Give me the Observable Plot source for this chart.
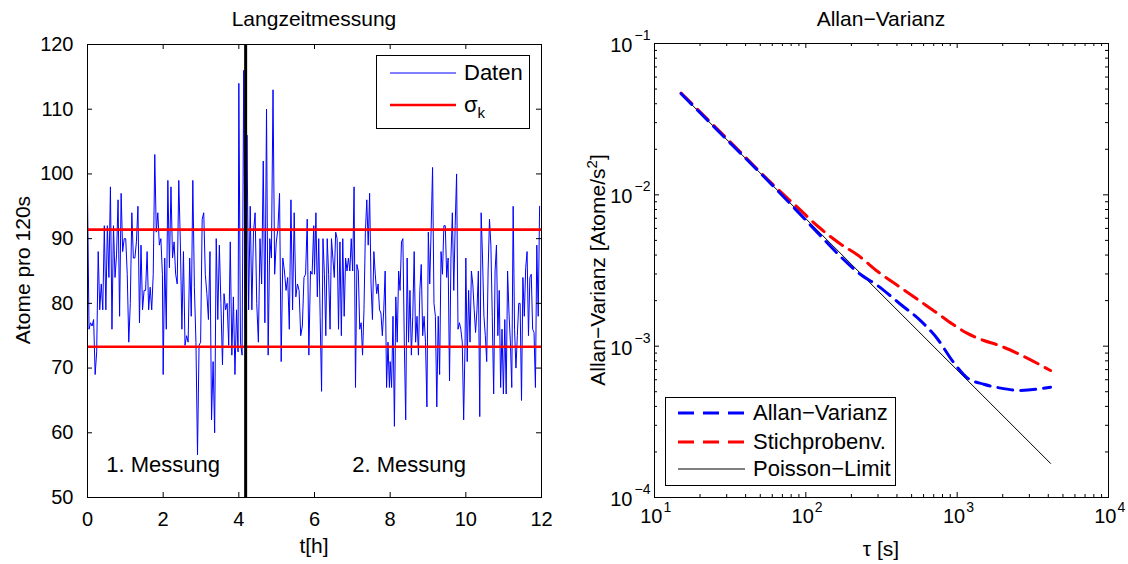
<!DOCTYPE html>
<html>
<head>
<meta charset="utf-8">
<script src="https://cdn.jsdelivr.net/npm/d3@7"></script>
<script src="https://cdn.jsdelivr.net/npm/@observablehq/plot@0.6"></script>
<style>
html,body{margin:0;padding:0;background:#fff;}
#wrap{position:relative;width:1128px;height:564px;overflow:hidden;font-family:"Liberation Sans",Arial,Helvetica,sans-serif;color:#000;background:#fff;}
#wrap > svg{position:absolute;top:0;}
.t{position:absolute;font-size:21px;line-height:1;white-space:nowrap;transform:translate(-50%,-50%);}
.title{font-size:21px;}
.rot{transform:translate(-50%,-50%) rotate(-90deg);}
.legend{position:absolute;border:1px solid #000;background:#fff;box-sizing:border-box;}
.legend span{position:absolute;font-size:22px;line-height:1;white-space:nowrap;transform:translateY(-50%);}
sup{font-size:15px;vertical-align:8px;line-height:0;}
sub{font-size:15px;vertical-align:-6px;line-height:0;}
</style>
</head>
<body>
<div id="wrap"></div>
<script>
// ---------- Data: Langzeitmessung (Atome pro 120 s), read per 2-hour window ----------
const segStart = [0, 2, 4, 6, 8, 10];
const segEnd   = [1.98, 3.98, 5.98, 7.98, 9.98, 11.95];
const seg0 = [97,76,77,76.5,77.5,69,72.5,88,79,83,79,92,79,92,84,98,76,92,84,87.5,96,78,97,88,90,90,84.5,74,80,94,87,87,89.5,95,77,89,79,82,82,88,79,82.5,79,84.5,103,91,94,89,90,84.5];
const seg1 = [69,87,76,99,85.5,98,87,89.5,84.5,83,99,89.5,76,88,73.5,75,74,87,78,99,82.5,74,56.6,73.5,74,93,94,84.5,81.5,77.5,88,62,71,60,90,77.5,89,80,70.5,81.5,79,80,73.5,89.5,72,81,69,79,72.5];
const seg2 = [114,74,72,116,76,106,79,95,79,91,94,80,74,90,83,102,77,110,72,90,87,113,84.5,89.5,91.5,97,71,87,85,82,84,76,96,79,94,81,83,82,75,76.5,84,84.5,93,72,85,84.5,92];
const seg3 = [84.5,94,81,90,78,66.4,90,84.5,75,90,84.5,76,90,87,84,91,90,76,89.5,75,90,78,87,85,87,85,90,85,98,67,86,85,76,77,72,79,91,96,89,97,83,77.5,88,84.5,81.5,83,79,78.5,75,79,85,67,74,67];
const seg4 = [71,67,78,61,81,74,85,82,89.5,90,74,62,87,74,82,72,78,88,74,78,72,82,86,75,78,74,64,91,83,91.5,101,80,78,64,78,69,88,84.5,92,92,84,87,68,87,94,82,92,100,76,77,76,74,62,74];
const seg5 = [87,71,82,74,85,83,79,75.5,79,85,62.5,94,87,78,75,71,85,93,89,78,66,85,89,75,82,67,76,66,77.5,66,85,78.5,74,67,95,76,70,75,80,80,65,84,78,85.5,88,75,84,84.5,76,75.5,67,89,78,95];
const sigmaK = [73.3, 91.4];          // mean ± sigma
const splitTime = [4.18];             // Trennung 1./2. Messung [h]
const messungText = ["1. Messung", "2. Messung"];
const messungT = [2.0, 8.5];
const messungV = [55, 55];
const xTicksL = [0, 2, 4, 6, 8, 10, 12];
const yTicksL = [50, 60, 70, 80, 90, 100, 110, 120];

// ---------- Data: Allan-Varianz ----------
const tau    = [15,30,60,90,120,170,220,300,420,570,740,930,1160,1500,1900,2600,4140];
const allan  = [0.0466,0.0232,0.0116,0.0076,0.0056,0.0039,0.00308,0.0025,0.0019,0.00148,0.00112,0.0008,0.00062,0.00056,0.00053,0.00051,0.000536];
const stich  = [0.047,0.0236,0.0118,0.0081,0.0062,0.00472,0.0040,0.0031,0.00245,0.00198,0.00165,0.0014,0.00122,0.00109,0.00101,0.00088,0.00069];
const poissonTau = [15, 4140];
const poisson    = [0.0464, 0.000168];
const xMajR = [10, 100, 1000, 10000];
const xExpR = ["1", "2", "3", "4"];
const yMajR = [1e-1, 1e-2, 1e-3, 1e-4];
const yExpR = ["\u22121", "\u22122", "\u22123", "\u22124"];
const xMinR = [20,30,40,50,60,70,80,90,200,300,400,500,600,700,800,900,2000,3000,4000,5000,6000,7000,8000,9000];
const yMinR = [2e-4,3e-4,4e-4,5e-4,6e-4,7e-4,8e-4,9e-4,2e-3,3e-3,4e-3,5e-3,6e-3,7e-3,8e-3,9e-3,2e-2,3e-2,4e-2,5e-2,6e-2,7e-2,8e-2,9e-2];

// ---------- build tables ----------
const segs = [seg0, seg1, seg2, seg3, seg4, seg5];
const series = [];
segs.forEach((s, k) => {
  const n = s.length;
  s.forEach((v, i) => series.push({t: segStart[k] + i * (segEnd[k] - segStart[k]) / (n - 1), v}));
});
const allanData = tau.map((t, i) => ({tau: t, v: allan[i]}));
const stichData = tau.map((t, i) => ({tau: t, v: stich[i]}));
const poisData  = poissonTau.map((t, i) => ({tau: t, v: poisson[i]}));
const messData  = messungText.map((s, i) => ({t: messungT[i], v: messungV[i], s}));

const font = '"Liberation Sans", Arial, Helvetica, sans-serif';
const fs = 20;
const wrap = document.getElementById("wrap");

// ---------- Left plot ----------
const mL = {top: 44, right: 23, bottom: 67, left: 87};
const fhL = 564 - mL.top - mL.bottom, fwL = 564 - mL.left - mL.right;
const tk = 5;
const left = Plot.plot({
  width: 564, height: 564,
  marginTop: mL.top, marginRight: mL.right, marginBottom: mL.bottom, marginLeft: mL.left,
  x: {domain: [0, 12]},
  y: {domain: [50, 120]},
  style: {fontFamily: font, fontSize: fs + "px", background: "transparent", overflow: "visible", color: "#000"},
  marks: [
    Plot.line(series, {x: "t", y: "v", stroke: "#0000ff", strokeWidth: 1}),
    Plot.ruleY(sigmaK, {stroke: "#ff0000", strokeWidth: 2.6}),
    Plot.ruleX(splitTime, {stroke: "#000", strokeWidth: 3}),
    Plot.text(messData, {x: "t", y: "v", text: "s", fontSize: 22, fill: "#000"}),
    Plot.frame({stroke: "#000", strokeWidth: 1}),
    Plot.tickX(xTicksL, {x: d => d, insetTop: fhL - tk, stroke: "#000"}),
    Plot.tickX(xTicksL, {x: d => d, insetBottom: fhL - tk, stroke: "#000"}),
    Plot.tickY(yTicksL, {y: d => d, insetRight: fwL - tk, stroke: "#000"}),
    Plot.tickY(yTicksL, {y: d => d, insetLeft: fwL - tk, stroke: "#000"}),
    Plot.axisX(xTicksL, {tickSize: 0, tickPadding: 14, label: null, fontSize: fs}),
    Plot.axisY(yTicksL, {tickSize: 0, tickPadding: 14, label: null, fontSize: fs})
  ]
});
left.style.left = "0px";
wrap.appendChild(left);

// ---------- Right plot ----------
const mR = {top: 43, right: 20, bottom: 67, left: 90};
const fhR = 564 - mR.top - mR.bottom, fwR = 564 - mR.left - mR.right;
const tkMin = 3;
const dash = "15,8";
const right = Plot.plot({
  width: 564, height: 564,
  marginTop: mR.top, marginRight: mR.right, marginBottom: mR.bottom, marginLeft: mR.left,
  x: {type: "log", domain: [10, 10000], axis: null},
  y: {type: "log", domain: [1e-4, 1e-1], axis: null},
  style: {fontFamily: font, fontSize: fs + "px", background: "transparent", overflow: "visible", color: "#000"},
  marks: [
    Plot.line(poisData, {x: "tau", y: "v", stroke: "#000", strokeWidth: 1}),
    Plot.line(stichData, {x: "tau", y: "v", stroke: "#ff0000", strokeWidth: 3, strokeDasharray: dash, curve: "monotone-x"}),
    Plot.line(allanData, {x: "tau", y: "v", stroke: "#0000ff", strokeWidth: 3, strokeDasharray: dash, curve: "monotone-x"}),
    Plot.frame({stroke: "#000", strokeWidth: 1}),
    Plot.tickX(xMajR, {x: d => d, insetTop: fhR - tk, stroke: "#000"}),
    Plot.tickX(xMajR, {x: d => d, insetBottom: fhR - tk, stroke: "#000"}),
    Plot.tickX(xMinR, {x: d => d, insetTop: fhR - tkMin, stroke: "#000"}),
    Plot.tickX(xMinR, {x: d => d, insetBottom: fhR - tkMin, stroke: "#000"}),
    Plot.tickY(yMajR, {y: d => d, insetRight: fwR - tk, stroke: "#000"}),
    Plot.tickY(yMajR, {y: d => d, insetLeft: fwR - tk, stroke: "#000"}),
    Plot.tickY(yMinR, {y: d => d, insetRight: fwR - tkMin, stroke: "#000"}),
    Plot.tickY(yMinR, {y: d => d, insetLeft: fwR - tkMin, stroke: "#000"}),
    Plot.text(xMajR, {x: d => d, frameAnchor: "bottom", text: () => "10", textAnchor: "end", dx: 8, dy: 25, fontSize: fs, fill: "#000"}),
    Plot.text(xMajR, {x: d => d, frameAnchor: "bottom", text: (d, i) => xExpR[i], textAnchor: "start", dx: 9, dy: 14, fontSize: 14, fill: "#000"}),
    Plot.text(yMajR, {y: d => d, frameAnchor: "left", text: () => "10", textAnchor: "end", dx: -22, dy: 2, fontSize: fs, fill: "#000"}),
    Plot.text(yMajR, {y: d => d, frameAnchor: "left", text: (d, i) => yExpR[i], textAnchor: "end", dx: -4, dy: -8, fontSize: 14, fill: "#000"})
  ]
});
right.style.left = "564px";
wrap.appendChild(right);

// ---------- Titles and axis labels ----------
function label(html, x, y, rot) {
  const d = document.createElement("div");
  d.className = "t" + (rot ? " rot" : "");
  d.style.left = x + "px"; d.style.top = y + "px";
  d.innerHTML = html;
  wrap.appendChild(d);
}
label("Langzeitmessung", 314, 18);
label("t[h]", 314, 545);
label("Atome pro 120s", 22, 270, true);
label("Allan\u2212Varianz", 881, 18);
label("\u03c4 [s]", 881, 548);
label("Allan\u2212Varianz [Atome/s<sup>2</sup>]", 597, 270, true);

// ---------- Legends ----------
function legend(x, y, w, h, items) {
  const box = document.createElement("div");
  box.className = "legend";
  Object.assign(box.style, {left: x + "px", top: y + "px", width: w + "px", height: h + "px"});
  const ns = "http://www.w3.org/2000/svg";
  const svg = document.createElementNS(ns, "svg");
  svg.setAttribute("width", w); svg.setAttribute("height", h);
  Object.assign(svg.style, {position: "absolute", left: "-1px", top: "-1px"});
  items.forEach(it => {
    const l = document.createElementNS(ns, "line");
    l.setAttribute("x1", it.x1); l.setAttribute("x2", it.x2);
    l.setAttribute("y1", it.y); l.setAttribute("y2", it.y);
    l.setAttribute("stroke", it.color); l.setAttribute("stroke-width", it.w);
    if (it.dash) l.setAttribute("stroke-dasharray", it.dash);
    svg.appendChild(l);
    const s = document.createElement("span");
    s.style.left = (it.tx - 1) + "px"; s.style.top = (it.y - 1) + "px";
    s.innerHTML = it.text;
    box.appendChild(s);
  });
  box.appendChild(svg);
  wrap.appendChild(box);
}
legend(376, 55, 154, 74, [
  {x1: 14, x2: 80, y: 18, color: "#0000ff", w: 1, text: "Daten", tx: 88},
  {x1: 14, x2: 80, y: 50, color: "#ff0000", w: 2.6, text: "\u03c3<sub>k</sub>", tx: 88}
]);
legend(665, 397, 231, 89, [
  {x1: 13, x2: 80, y: 16, color: "#0000ff", w: 3, dash: "16,9", text: "Allan\u2212Varianz", tx: 88},
  {x1: 13, x2: 80, y: 45, color: "#ff0000", w: 3, dash: "16,9", text: "Stichprobenv.", tx: 88},
  {x1: 13, x2: 80, y: 72, color: "#000", w: 1, text: "Poisson\u2212Limit", tx: 88}
]);
</script>
</body>
</html>
